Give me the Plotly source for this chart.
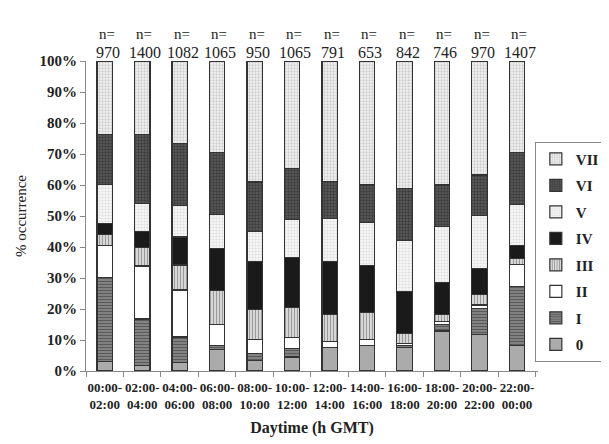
import plotly.graph_objects as go

categories = ["00:00-<br>02:00", "02:00-<br>04:00", "04:00-<br>06:00", "06:00-<br>08:00",
              "08:00-<br>10:00", "10:00-<br>12:00", "12:00-<br>14:00", "14:00-<br>16:00",
              "16:00-<br>18:00", "18:00-<br>20:00", "20:00-<br>22:00", "22:00-<br>00:00"]
n_counts = [970, 1400, 1082, 1065, 950, 1065, 791, 653, 842, 746, 970, 1407]

# cumulative tops, converted to segment sizes below
cum_0 = [3.0, 1.8, 2.8, 7.0, 3.4, 4.5, 7.5, 8.1, 7.7, 12.9, 11.8, 8.3]
cum_I = [30.1, 16.8, 11.0, 8.1, 5.6, 7.2, 7.7, 8.3, 8.2, 15.1, 20.2, 27.2]
cum_II = [40.5, 33.9, 26.1, 15.1, 10.2, 10.8, 9.6, 10.2, 8.8, 15.9, 21.3, 34.4]
cum_III = [44.0, 39.8, 34.2, 26.0, 19.9, 20.6, 18.3, 18.8, 12.0, 18.1, 24.7, 36.3]
cum_IV = [47.5, 44.9, 43.2, 39.4, 35.2, 36.6, 35.3, 34.1, 25.6, 28.5, 33.0, 40.6]
cum_V = [60.2, 54.1, 53.4, 50.4, 44.9, 48.9, 49.1, 47.8, 42.2, 46.6, 50.2, 53.8]
cum_VI = [76.3, 76.3, 73.5, 70.5, 61.0, 65.3, 61.1, 60.0, 58.9, 60.0, 63.2, 70.6]
cum_VII = [100.0] * 12

series_names = ["0", "I", "II", "III", "IV", "V", "VI", "VII"]
cums = [cum_0, cum_I, cum_II, cum_III, cum_IV, cum_V, cum_VI, cum_VII]

styles = {
    "0": dict(color="#ababab", pattern=dict(shape="")),
    "I": dict(color="#7a7a7a", pattern=dict(shape="-", fgcolor="#2a2a2a", bgcolor="#8a8a8a", size=3, solidity=0.45)),
    "II": dict(color="#ffffff", pattern=dict(shape="")),
    "III": dict(color="#d8d8d8", pattern=dict(shape="|", fgcolor="#555555", bgcolor="#dddddd", size=3, solidity=0.4)),
    "IV": dict(color="#1a1a1a", pattern=dict(shape="")),
    "V": dict(color="#eeeeee", pattern=dict(shape=".", fgcolor="#c4c4c4", bgcolor="#f7f7f7", size=3, solidity=0.4)),
    "VI": dict(color="#3a3a3a", pattern=dict(shape="+", fgcolor="#1e1e1e", bgcolor="#555555", size=3, solidity=0.35)),
    "VII": dict(color="#dddddd", pattern=dict(shape=".", fgcolor="#a8a8a8", bgcolor="#f2f2f2", size=3, solidity=0.45)),
}

fig = go.Figure()
prev = [0.0] * 12
for i, (name, cum) in enumerate(zip(series_names, cums)):
    seg = [round(c - p, 2) for c, p in zip(cum, prev)]
    prev = cum
    st = styles[name]
    fig.add_trace(go.Bar(
        x=categories, y=seg, name=name, legendgroup=name,
        legendrank=len(series_names) - i,
        marker=dict(color=st["color"], pattern=st["pattern"],
                    line=dict(color="#333333", width=1.2)),
    ))

serif = "Liberation Serif"
for cat, n in zip(categories, n_counts):
    fig.add_annotation(x=cat, y=1.12, yref="paper", text="n=", showarrow=False,
                       xshift=2, font=dict(family=serif, size=15, color="#222"))
    fig.add_annotation(x=cat, y=1.062, yref="paper", text=str(n), showarrow=False,
                       xshift=3, font=dict(family=serif, size=16, color="#222"))

fig.update_layout(
    width=609, height=444,
    margin=dict(l=70, r=44, t=53, b=81),
    barmode="stack", bargap=0.59,
    plot_bgcolor="white", paper_bgcolor="white",
    font=dict(family=serif, color="#222"),
    legend=dict(x=0.993, xanchor="left", y=0.74, yanchor="top",
                traceorder="grouped", tracegroupgap=4,
                bordercolor="#888", borderwidth=1, bgcolor="white",
                font=dict(family=serif, size=15, color="#222", weight="bold"),
                itemwidth=30),
    showlegend=True,
)
fig.update_xaxes(
    type="category", tickson="boundaries", ticks="outside", ticklen=5,
    tickangle=0, ticklabelstandoff=4,
    tickcolor="#888", showline=True, linecolor="#888", linewidth=1,
    showgrid=False,
    tickfont=dict(family=serif, size=13, weight="bold"),
    title=dict(text="Daytime (h GMT)", font=dict(family=serif, size=16, weight="bold"), standoff=11),
)
fig.update_yaxes(
    range=[0, 100], dtick=10, ticksuffix="%", ticks="outside", ticklen=5,
    tickcolor="#888", showline=True, linecolor="#888", linewidth=1,
    showgrid=False, zeroline=False,
    tickfont=dict(family=serif, size=15, weight="bold"),
    title=dict(text="% occurrence", font=dict(family=serif, size=15), standoff=9),
)

fig.write_html("out.html")
